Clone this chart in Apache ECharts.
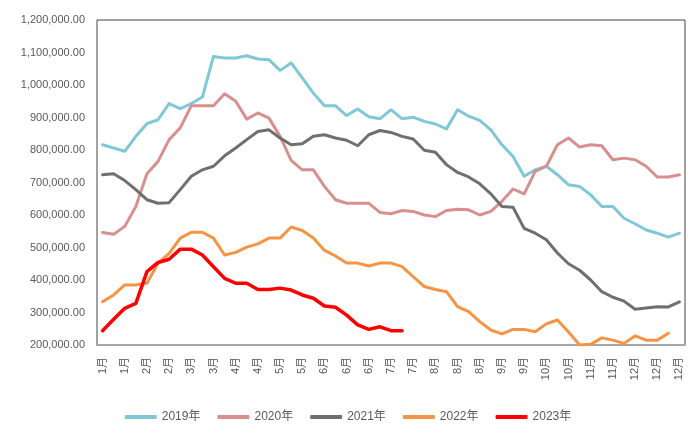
<!DOCTYPE html>
<html>
<head>
<meta charset="utf-8">
<title>周度走势</title>
<script src="https://cdn.jsdelivr.net/npm/echarts@6/dist/echarts.min.js"></script>
<style>
    html, body { margin: 0; padding: 0; background: #fff; }
    #main { width: 696px; height: 440px; }
</style>
</head>
<body>
<div id="main"></div>
<script>
// 周度横轴：第1周~第53周所在月份
var weeks = ['1月','1月','1月','1月','2月','2月','2月','2月','3月','3月','3月','3月',
    '4月','4月','4月','4月','5月','5月','5月','5月','6月','6月','6月','6月','6月','6月',
    '7月','7月','7月','7月','8月','8月','8月','8月','8月','8月','9月','9月','9月','9月',
    '10月','10月','10月','10月','11月','11月','11月','11月','12月','12月','12月','12月','12月'];

var yearNames = ['2019年', '2020年', '2021年', '2022年', '2023年'];
var yearColors = ['#80c7d8', '#d8908f', '#6f6f6f', '#f79443', '#ff0000'];

// 各年数据（千）
var data2019 = [816, 806, 796, 842, 881, 893, 943, 927, 943, 963, 1088, 1083, 1083, 1090, 1080, 1078,
    1045, 1068, 1022, 975, 936, 936, 906, 926, 902, 896, 924, 896, 901, 888, 880, 865, 924, 904, 891,
    862, 816, 780, 719, 739, 750, 724, 693, 688, 662, 626, 626, 590, 573, 554, 544, 532, 544];
var data2020 = [546, 541, 565, 626, 727, 765, 832, 868, 936, 936, 936, 973, 950, 895, 914, 898,
    842, 768, 739, 739, 688, 647, 636, 636, 636, 608, 604, 614, 611, 600, 595, 614, 618, 616, 600,
    611, 642, 680, 665, 734, 750, 816, 837, 809, 816, 813, 770, 775, 770, 750, 717, 717, 724];
var data2021 = [724, 727, 706, 678, 647, 636, 638, 678, 719, 739, 750, 782, 806, 832, 857, 862,
    837, 816, 819, 842, 847, 837, 830, 813, 847, 860, 854, 842, 834, 799, 793, 755, 731, 717, 696,
    665, 626, 624, 559, 544, 524, 483, 450, 430, 400, 364, 347, 335, 310, 314, 318, 317, 333];
var data2022 = [333, 354, 385, 385, 390, 452, 482, 529, 547, 547, 529, 477, 485, 501, 511, 529,
    529, 563, 552, 529, 491, 474, 452, 452, 443, 452, 452, 441, 410, 380, 371, 364, 318, 303, 272,
    246, 234, 248, 248, 241, 265, 277, 240, 200, 202, 222, 215, 205, 228, 215, 215, 236];
var data2023 = [244, 279, 313, 328, 426, 454, 464, 495, 495, 477, 441, 405, 390, 390, 371, 371,
    375, 369, 354, 344, 320, 316, 292, 262, 248, 256, 244, 244];

var yMin = 200000, yMax = 1200000, yStep = 100000;

// 1200000 -> 1,200,000.00
function fmt(v) {
    var s = String(Math.round(v));
    return s.replace(/\B(?=(\d{3})+(?!\d))/g, ',') + '.00';
}

function toUnits(arr) {
    return arr.map(function (v) { return v * 1000; });
}

var chart = echarts.init(document.getElementById('main'));
var font = '"Liberation Sans", "Noto Sans CJK SC", sans-serif';

var all = [data2019, data2020, data2021, data2022, data2023];
var series = [];
for (var i = 0; i < all.length; i++) {
    series.push({
        name: yearNames[i],
        type: 'line',
        data: toUnits(all[i]),
        symbol: 'none',
        smooth: false,
        lineStyle: { color: yearColors[i], width: i === 4 ? 3.5 : 3, cap: 'round', join: 'round' },
        itemStyle: { color: yearColors[i] },
        z: 2 + i
    });
}

chart.setOption({
    animation: false,
    backgroundColor: '#fff',
    color: yearColors,
    grid: {
        left: 97, right: 11, top: 20, bottom: 95,
        show: true, borderColor: '#444', borderWidth: 1
    },
    legend: {
        data: yearNames,
        left: 'center',
        top: 406,
        icon: 'roundRect',
        itemWidth: 32,
        itemHeight: 4,
        itemGap: 17,
        textStyle: { color: '#595959', fontSize: 12, fontFamily: font }
    },
    xAxis: {
        type: 'category',
        data: weeks,
        boundaryGap: true,
        axisLine: { lineStyle: { color: '#a6a6a6', width: 2 } },
        axisTick: { show: false },
        axisLabel: {
            interval: 1,
            rotate: 90,
            margin: 12,
            color: '#595959',
            fontSize: 11,
            fontFamily: font
        },
        splitLine: { show: false }
    },
    yAxis: {
        type: 'value',
        min: yMin,
        max: yMax,
        interval: yStep,
        axisLine: { show: false },
        axisTick: { show: false },
        splitLine: { show: false },
        axisLabel: {
            margin: 12,
            color: '#595959',
            fontSize: 11,
            fontFamily: font,
            formatter: fmt
        }
    },
    series: series
});
</script>
</body>
</html>
